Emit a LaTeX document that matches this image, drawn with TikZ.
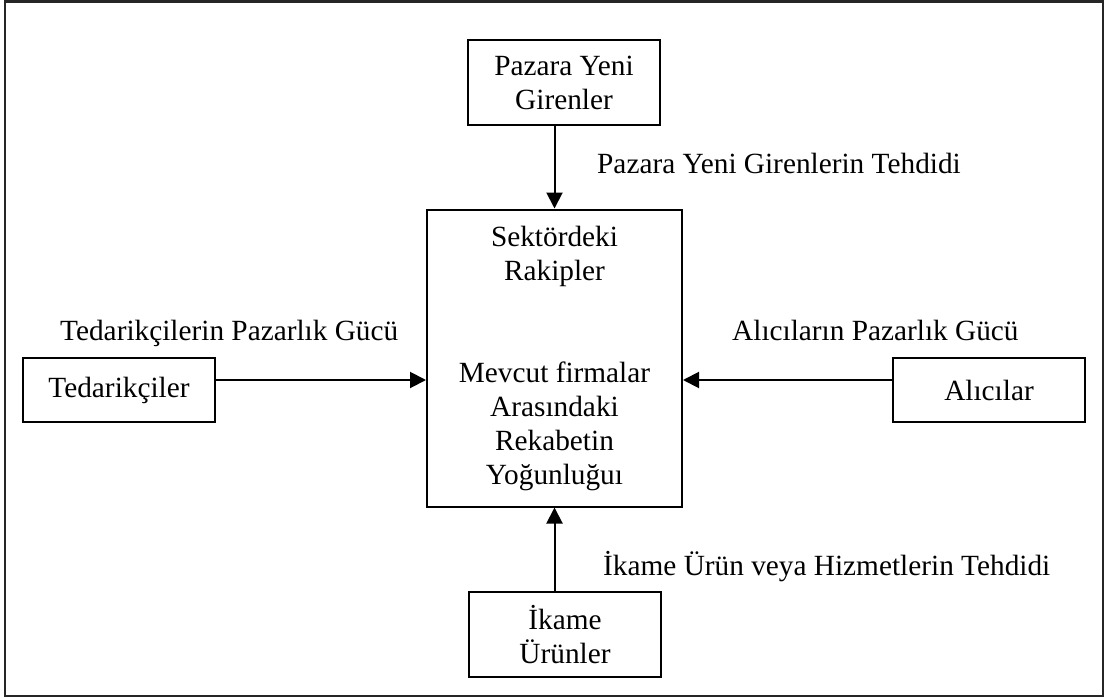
\documentclass[tikz,border=0pt]{standalone}
\usepackage{fontspec}
\setmainfont{Liberation Serif}
\usetikzlibrary{arrows.meta}
\begin{document}
\begin{tikzpicture}[x=1pt,y=-1pt,
  every node/.style={font=\fontsize{29.3}{34}\selectfont},
  force/.style={draw=black,line width=2pt,rectangle,inner sep=0pt,align=center},
  lbl/.style={inner sep=0pt,anchor=base west},
  arr/.style={line width=2pt,-{Triangle[length=16pt,width=16pt]}}]
\useasboundingbox (0,0) rectangle (1105,698);
% outer frame
\draw[line width=2.6pt,black!85] (5,1.5) rectangle (1103,696);

% boxes
\node[force,minimum width=192pt,minimum height=85pt] (entrants) at (564,82.5) {Pazara Yeni\\Girenler};
\node[force,minimum width=255pt,minimum height=297pt] (rivals) at (554.5,358)
  {Sektördeki\\Rakipler\\[68pt]Mevcut firmalar\\Arasındaki\\Rekabetin\\Yoğunluğuı};
\node[force,minimum width=192pt,minimum height=64pt] (suppliers) at (119,390) {Tedarikçiler};
\node[force,minimum width=192pt,minimum height=64pt] (buyers) at (989,390) {Alıcılar};
\node[force,minimum width=192pt,minimum height=85pt] (subst) at (565,634.5) {İkame\\Ürünler};

% connector height for the side arrows
\coordinate (side) at (0,380);

% arrows
\draw[arr] (rivals.north |- entrants.south) -- (rivals.north);
\draw[arr] (suppliers.east |- side) -- (rivals.west |- side);
\draw[arr] (buyers.west |- side) -- (rivals.east |- side);
\draw[arr] (rivals.south |- subst.north) -- (rivals.south);

% labels
\node[lbl] (lentr) at (597,173) {Pazara Yeni Girenlerin Tehdidi};
\node[lbl] (lsupp) at (60,340) {Tedarikçilerin Pazarlık Gücü};
\node[lbl] (lbuy) at (732,340) {Alıcıların Pazarlık Gücü};
\node[lbl] (lsubst) at (603,575) {İkame Ürün veya Hizmetlerin Tehdidi};
\end{tikzpicture}
\end{document}
